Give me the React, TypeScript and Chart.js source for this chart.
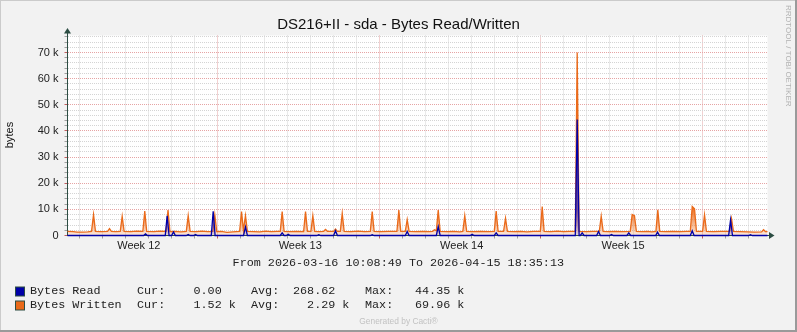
import React, { useEffect, useRef } from 'react';
import { Chart, registerables } from 'chart.js';

Chart.register(...registerables);

// ---------- text ----------
const TITLE = 'DS216+II - sda - Bytes Read/Written';
const Y_TITLE = 'bytes';
const TIME_RANGE = 'From 2026-03-16 10:08:49 To 2026-04-15 18:35:13';
const SIDE_TEXT = 'RRDTOOL / TOBI OETIKER';
const FOOTER = 'Generated by Cacti®';

// ---------- time axis (hours since 2026-03-16 10:08:49) ----------
const SPAN_HOURS = 728.44;
const dayGridHours = [
  12.5, 36.5, 60.5, 84.5, 108.5, 132.5, 156.5, 180.5, 204.5, 228.5,
  252.5, 276.5, 300.5, 324.5, 348.5, 372.5, 396.5, 420.5, 444.5, 468.5,
  492.5, 516.5, 540.5, 564.5, 588.5, 612.5, 636.5, 660.5, 684.5, 708.5,
];
const weekGridHours = [156.5, 324.5, 492.5, 660.5];
const weekLabelHours = [74.2, 242.2, 410.2, 578.2];
const weekLabels = ['Week 12', 'Week 13', 'Week 14', 'Week 15'];

// ---------- value axis ----------
const Y_MAX = 76500;
const yMajorTicks = [0, 10000, 20000, 30000, 40000, 50000, 60000, 70000];
const yTickLabels = ['0', '10 k', '20 k', '30 k', '40 k', '50 k', '60 k', '70 k'];
const yMinorTicks = [
  2000, 4000, 6000, 8000, 12000, 14000, 16000, 18000, 22000, 24000, 26000, 28000,
  32000, 34000, 36000, 38000, 42000, 44000, 46000, 48000, 52000, 54000, 56000, 58000,
  62000, 64000, 66000, 68000, 72000, 74000, 76000,
];

// ---------- series: Bytes Written (k bytes) ----------
const writtenHours = [
  0, 6, 10, 16, 21, 25,
  27.1, 29.1, 35, 41.7, 43.7, 45.7, 50,
  54.9, 56.9, 58.9, 66, 72,
  78.4, 80.4, 82.4, 90, 96,
  102.6, 104.6, 106.6, 112, 118,
  123.6, 125.6, 127.6, 134, 140, 146,
  151.3, 153.3, 155.3, 160, 166, 172,
  179.1, 181.1, 183.1, 185.2, 187.2,
  194, 200, 206, 212, 218,
  221.4, 223.4, 225.4, 232, 238,
  245.7, 247.7, 249.7, 253.3, 255.3, 257.3, 262,
  266.5, 268.5, 270.5, 276.9, 278.9, 280.9,
  283.9, 285.9, 287.9, 295, 302, 309,
  315.1, 317.1, 319.1, 326, 334,
  342.8, 344.8, 346.8, 351.5, 353.5, 355.5,
  362, 370, 376,
  379.9, 381.9, 383.8, 385.8, 387.8,
  395, 402, 408,
  411.4, 413.4, 415.4, 422, 430, 438,
  444.1, 446.1, 448.1, 453.8, 455.8, 457.8,
  465, 472, 478, 485,
  492, 494, 496, 503, 510, 516, 522,
  528.4, 530.4, 532.4, 540, 547,
  553.4, 555.4, 557.4, 563, 570, 577,
  585.6, 587.6, 590, 592, 598, 604, 608,
  612.3, 614.3, 616.3, 622, 630, 638, 644,
  648.1, 650.1, 652.5, 654.5,
  660.9, 662.9, 664.9, 672, 680,
  689, 691, 693, 700, 708, 715,
  722.3, 724.3, 726.3, 728.44,
];
const writtenK = [
  1.6, 1.5, 1.3, 1.3, 1.4, 1.6,
  8.0, 1.6, 1.5, 1.6, 2.6, 1.6, 1.5,
  1.6, 7.3, 1.6, 1.5, 1.7,
  1.6, 9.3, 1.6, 1.5, 1.7,
  1.6, 9.7, 1.5, 1.6, 1.4,
  1.6, 7.6, 1.6, 1.5, 1.7, 1.5,
  1.6, 7.9, 1.5, 1.6, 1.2, 1.4,
  1.6, 9.2, 2.0, 7.6, 1.6,
  1.5, 1.4, 1.7, 1.5, 1.6,
  1.6, 9.2, 1.6, 1.5, 1.6,
  1.5, 9.2, 1.6, 1.6, 7.6, 1.6, 1.5,
  1.6, 2.3, 1.6, 1.6, 2.5, 1.6,
  1.6, 8.5, 1.6, 1.5, 1.7, 1.5,
  1.6, 9.2, 1.6, 1.5, 1.6,
  1.6, 9.7, 1.6, 1.6, 6.1, 1.6,
  1.5, 1.6, 1.5,
  1.6, 2.2, 1.8, 9.7, 1.6,
  1.5, 1.6, 1.4,
  1.6, 7.6, 1.6, 1.5, 1.6, 1.5,
  1.6, 9.3, 1.6, 1.6, 6.6, 1.6,
  1.5, 1.6, 1.4, 1.6,
  1.6, 11.1, 1.6, 1.5, 1.7, 1.5, 1.6,
  1.6, 69.96, 1.6, 1.5, 1.6,
  1.6, 7.4, 1.6, 1.5, 1.6, 1.5,
  1.6, 8.0, 7.6, 1.6, 1.5, 1.6, 1.4,
  1.6, 9.8, 1.6, 1.5, 1.6, 1.5, 1.6,
  1.6, 11.1, 10.2, 1.6,
  1.6, 7.9, 1.6, 1.5, 1.6,
  1.6, 6.5, 1.6, 1.5, 1.4, 1.3,
  1.4, 2.2, 1.5, 1.52,
];

// ---------- series: Bytes Read (k bytes) ----------
const readHours = [
  0,
  79.2, 81.2, 83.2, 101.7, 103.7, 105.7, 108.3, 110.3, 112.3,
  123.6, 125.6, 127.6, 131.2, 133.2, 135.2, 149.6, 151.6, 153.6,
  183.2, 185.2, 187.2, 221.4, 223.4, 225.4, 227.7, 229.7, 231.7,
  259.5, 261.5, 263.5, 276.9, 278.9, 280.9, 315.1, 317.1, 319.1,
  351.5, 353.5, 355.5, 383.8, 385.8, 387.8, 419.1, 421.1, 423.1,
  444.1, 446.1, 448.1, 528.4, 530.4, 532.4, 533.6, 535.6, 537.6,
  550.6, 552.6, 554.6, 564.1, 566.1, 568.1, 582.1, 584.1, 586.1,
  612.0, 614.0, 616.0, 648.1, 650.1, 652.1, 688.0, 690.0, 692.0,
  708.7, 710.7, 712.7,
  728.44,
];
const readK = [
  0,
  0, 0.6, 0, 0, 7.5, 0, 0, 1.4, 0,
  0, 0.4, 0, 0, 0.4, 0, 0, 9.3, 0,
  0, 3.3, 0, 0, 1.0, 0, 0, 0.5, 0,
  0, 0.3, 0, 0, 1.8, 0, 0, 0.3, 0,
  0, 1.5, 0, 0, 3.4, 0, 0, 0.5, 0,
  0, 1.0, 0, 0, 44.35, 0, 0, 1.0, 0,
  0, 1.5, 0, 0, 0.4, 0, 0, 1.0, 0,
  0, 1.3, 0, 0, 1.8, 0, 0, 6.0, 0,
  0, 0.3, 0,
  0,
];

// ---------- legend ----------
const legendNames = ['Bytes Read', 'Bytes Written'];
const legendColors = ['#0000A8', '#EA6A1A'];
const legendCur = ['0.00', '1.52 k'];
const legendAvg = ['268.62', '  2.29 k'];
const legendMax = ['44.35 k', '69.96 k'];

// ---------- styles ----------
const W = 797;
const H = 332;
const AXIS = '#2C4D43';
const MINOR = '#d4d4d4';
const MAJOR = '#e6a4a4';
const SANS = '"Liberation Sans", Arial, sans-serif';
const MONO = '"Liberation Mono", "DejaVu Sans Mono", monospace';

const near = (a: number, b: number) => Math.abs(a - b) < 0.01;

function fillGradient(rgb: string, top: number, bottom: number) {
  return (ctx: any) => {
    const chart = ctx.chart;
    const ys = chart.scales?.y;
    if (!chart.chartArea || !ys) return `rgba(${rgb},0.4)`;
    const y0 = ys.getPixelForValue(0);
    const y1 = ys.getPixelForValue(10000);
    const g = chart.ctx.createLinearGradient(0, y1, 0, y0);
    g.addColorStop(0, `rgba(${rgb},${top})`);
    g.addColorStop(1, `rgba(${rgb},${bottom})`);
    return g;
  };
}

const decorPlugin = {
  id: 'rrdDecor',
  beforeDraw(chart: any) {
    const { ctx, chartArea: a } = chart;
    ctx.save();
    ctx.fillStyle = '#F2F2F2';
    ctx.fillRect(0, 0, W, H);
    ctx.fillStyle = '#FFFFFF';
    ctx.fillRect(a.left, a.top, a.right - a.left, a.bottom - a.top);
    ctx.fillStyle = '#CBCBCB';
    ctx.fillRect(0, 0, W, 1);
    ctx.fillRect(0, 0, 1, H);
    ctx.fillStyle = '#9A9A9A';
    ctx.fillRect(W - 2, 0, 2, H);
    ctx.fillRect(0, H - 2, W, 2);
    ctx.restore();
  },
  beforeDatasetsDraw(chart: any) {
    const { ctx, chartArea: a } = chart;
    ctx.save();
    ctx.strokeStyle = AXIS;
    ctx.lineWidth = 1;
    ctx.beginPath();
    ctx.moveTo(a.left, a.bottom);
    ctx.lineTo(a.left, a.top - 3);
    ctx.moveTo(a.left - 0.5, a.bottom);
    ctx.lineTo(a.right + 3, a.bottom);
    ctx.stroke();
    ctx.restore();
  },
  afterDraw(chart: any) {
    const { ctx, chartArea: a } = chart;
    ctx.save();
    // arrows
    ctx.fillStyle = AXIS;
    ctx.beginPath();
    ctx.moveTo(a.left - 3.5, a.top - 2);
    ctx.lineTo(a.left + 3.5, a.top - 2);
    ctx.lineTo(a.left, a.top - 7.5);
    ctx.closePath();
    ctx.fill();
    ctx.beginPath();
    ctx.moveTo(a.right + 1.5, a.bottom - 3.5);
    ctx.lineTo(a.right + 1.5, a.bottom + 3.5);
    ctx.lineTo(a.right + 7, a.bottom);
    ctx.closePath();
    ctx.fill();

    // title
    ctx.fillStyle = '#111';
    ctx.font = `15px ${SANS}`;
    ctx.textAlign = 'center';
    ctx.textBaseline = 'alphabetic';
    ctx.fillText(TITLE, 398.5, 29);

    // y title
    ctx.save();
    ctx.translate(10, 135);
    ctx.rotate(-Math.PI / 2);
    ctx.font = `11px ${SANS}`;
    ctx.textAlign = 'center';
    ctx.textBaseline = 'middle';
    ctx.fillStyle = '#111';
    ctx.fillText(Y_TITLE, 0, 0);
    ctx.restore();

    // side text
    ctx.save();
    ctx.translate(788, 5);
    ctx.rotate(Math.PI / 2);
    ctx.font = `8px ${SANS}`;
    ctx.textAlign = 'left';
    ctx.textBaseline = 'middle';
    ctx.fillStyle = '#b2b2b2';
    ctx.fillText(SIDE_TEXT, 0, 0);
    ctx.restore();

    // time range
    ctx.font = `11.75px ${MONO}`;
    ctx.fillStyle = '#222';
    ctx.textAlign = 'center';
    ctx.fillText(TIME_RANGE, 398.3, 266);

    // legend
    ctx.textAlign = 'left';
    const rowsY = [294, 308];
    legendNames.forEach((name, i) => {
      const y = rowsY[i];
      ctx.fillStyle = legendColors[i];
      ctx.fillRect(15.5, y - 7, 9, 9);
      ctx.strokeStyle = '#2C4D43';
      ctx.lineWidth = 1;
      ctx.strokeRect(15.5, y - 7, 9, 9);
      ctx.fillStyle = '#222';
      ctx.font = `11.75px ${MONO}`;
      ctx.fillText(name, 30, y);
      ctx.fillText('Cur:', 137, y);
      ctx.fillText(legendCur[i], 193.5, y);
      ctx.fillText('Avg:', 251, y);
      ctx.fillText(legendAvg[i], 293, y);
      ctx.fillText('Max:', 365, y);
      ctx.fillText(legendMax[i], 415, y);
    });

    // footer
    ctx.font = `8.4px ${SANS}`;
    ctx.fillStyle = '#c2c2c2';
    ctx.textAlign = 'center';
    ctx.fillText(FOOTER, 398.5, 324);
    ctx.restore();
  },
};

export default function App() {
  const ref = useRef<HTMLCanvasElement | null>(null);

  useEffect(() => {
    if (!ref.current) return;
    const chart = new Chart(ref.current, {
      type: 'line',
      data: {
        datasets: [
          {
            label: 'Bytes Written',
            data: writtenHours.map((h, i) => ({ x: h, y: writtenK[i] * 1000 })),
            borderColor: '#EA6A1A',
            borderWidth: 1.3,
            pointRadius: 0,
            tension: 0,
            fill: 'origin',
            backgroundColor: fillGradient('236,110,30', 0.95, 0.15),
            order: 2,
            clip: 3,
          },
          {
            label: 'Bytes Read',
            data: readHours.map((h, i) => ({ x: h, y: readK[i] * 1000 })),
            borderColor: '#0000A8',
            borderWidth: 1.3,
            pointRadius: 0,
            tension: 0,
            fill: 'origin',
            backgroundColor: fillGradient('50,50,210', 0.65, 0.12),
            order: 1,
            clip: 3,
          },
        ],
      },
      options: {
        animation: false,
        responsive: false,
        maintainAspectRatio: false,
        devicePixelRatio: 1,
        events: [],
        layout: { padding: { left: 0, right: 29.5, top: 35.5, bottom: 0 } },
        plugins: {
          legend: { display: false },
          tooltip: { enabled: false },
          title: { display: false },
        },
        scales: {
          x: {
            type: 'linear',
            min: 0,
            max: SPAN_HOURS,
            afterBuildTicks: (s: any) => {
              const vals = [...dayGridHours, ...weekLabelHours].sort((p, q) => p - q);
              s.ticks = vals.map((v) => ({ value: v }));
            },
            afterFit: (s: any) => {
              s.height = 96.5;
            },
            ticks: {
              autoSkip: false,
              maxRotation: 0,
              minRotation: 0,
              padding: 1,
              color: '#222',
              font: { family: SANS, size: 11 },
              callback: (v: any) => {
                const i = weekLabelHours.findIndex((w) => near(w, Number(v)));
                return i >= 0 ? weekLabels[i] : '';
              },
            },
            grid: {
              color: (c: any) => {
                const v = c.tick?.value ?? -1;
                if (weekLabelHours.some((w) => near(w, v))) return 'rgba(0,0,0,0)';
                return weekGridHours.some((w) => near(w, v)) ? MAJOR : MINOR;
              },
              tickColor: (c: any) => {
                const v = c.tick?.value ?? -1;
                if (weekLabelHours.some((w) => near(w, v))) return 'rgba(0,0,0,0)';
                return weekGridHours.some((w) => near(w, v)) ? '#c06060' : '#a0a0a0';
              },
              tickLength: 3,
              lineWidth: 1,
            },
            border: { display: false, dash: [1, 1] },
          },
          y: {
            type: 'linear',
            min: 0,
            max: Y_MAX,
            afterBuildTicks: (s: any) => {
              const vals = [...yMajorTicks, ...yMinorTicks].sort((p, q) => p - q);
              s.ticks = vals.map((v) => ({ value: v }));
            },
            afterFit: (s: any) => {
              s.width = 67.5;
            },
            ticks: {
              autoSkip: false,
              padding: 6,
              color: '#222',
              font: { family: SANS, size: 11 },
              callback: (v: any) => {
                const i = yMajorTicks.indexOf(Number(v));
                return i >= 0 ? yTickLabels[i] : '';
              },
            },
            grid: {
              color: (c: any) => {
                const v = c.tick?.value ?? -1;
                if (v === 0) return 'rgba(0,0,0,0)';
                return yMajorTicks.includes(v) ? MAJOR : MINOR;
              },
              tickColor: (c: any) => {
                const v = c.tick?.value ?? -1;
                return yMajorTicks.includes(v) ? '#c06060' : '#a0a0a0';
              },
              tickLength: 3,
              lineWidth: 1,
            },
            border: { display: false, dash: [1, 1] },
          },
        },
      },
      plugins: [decorPlugin],
    } as any);
    return () => chart.destroy();
  }, []);

  return (
    <div style={{ position: 'fixed', left: 0, top: 0, width: W, height: H }}>
      <canvas ref={ref} width={W} height={H} style={{ display: 'block', width: W, height: H }} />
    </div>
  );
}
